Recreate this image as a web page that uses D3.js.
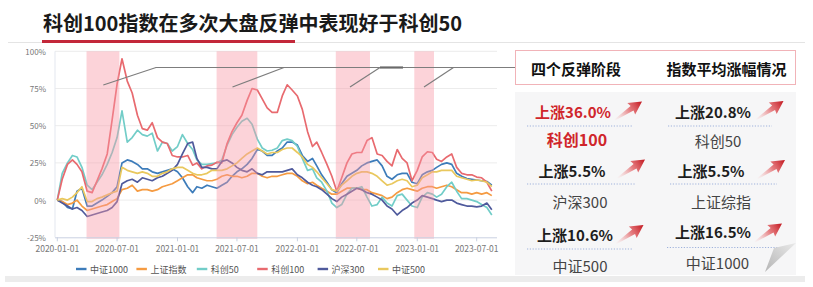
<!DOCTYPE html>
<html><head><meta charset="utf-8">
<script src="https://cdn.jsdelivr.net/npm/d3@7"></script>
<style>body{margin:0;background:#fff;} svg{display:block;font-family:"Noto Sans CJK SC","Noto Sans",sans-serif;}</style>
</head><body><svg id="c" width="813" height="287"></svg>
<script>
// ---------- DATA ----------
const title = "科创100指数在多次大盘反弹中表现好于科创50";
const dates = [
"2020-01-01","2020-01-16","2020-02-01","2020-02-16","2020-03-01","2020-03-16","2020-04-01","2020-04-16","2020-05-01","2020-05-16","2020-06-01","2020-06-16",
"2020-07-01","2020-07-16","2020-08-01","2020-08-16","2020-09-01","2020-09-16","2020-10-01","2020-10-16","2020-11-01","2020-11-16","2020-12-01","2020-12-16",
"2021-01-01","2021-01-16","2021-02-01","2021-02-16","2021-03-01","2021-03-16","2021-04-01","2021-04-16","2021-05-01","2021-05-16","2021-06-01","2021-06-16",
"2021-07-01","2021-07-16","2021-08-01","2021-08-16","2021-09-01","2021-09-16","2021-10-01","2021-10-16","2021-11-01","2021-11-16","2021-12-01","2021-12-16",
"2022-01-01","2022-01-16","2022-02-01","2022-02-16","2022-03-01","2022-03-16","2022-04-01","2022-04-16","2022-05-01","2022-05-16","2022-06-01","2022-06-16",
"2022-07-01","2022-07-16","2022-08-01","2022-08-16","2022-09-01","2022-09-16","2022-10-01","2022-10-16","2022-11-01","2022-11-16","2022-12-01","2022-12-16",
"2023-01-01","2023-01-16","2023-02-01","2023-02-16","2023-03-01","2023-03-16","2023-04-01","2023-04-16","2023-05-01","2023-05-16","2023-06-01","2023-06-16",
"2023-07-01","2023-07-16","2023-08-01","2023-08-16"];

const zz1000 = [0,-1,-5,-6,6,8,-4,-4,-2,0,2.5,5,
 9,25,27,26,24,21,21,19,18,19,20,21,
 19,15,9,5,9,8,10,9,8,10,12,16,
 19,21,24,28,34,33,30,30,33,35,39,39,
 37,30,26,28,23,17,12,7,5,11,16,18,
 20,23,25,26,27,23,16,14,17,18,18,12,
 11,17,19,20,22,24,25,24,18,16,14.5,14,
 13.5,13,12.5,10];
const szzs = [0,-1,-3,-2,0,-4,-7,-6,-5,-4,-3,-1,
 1,7,8,10,6,7,7,6,7,9,10,11,
 13,15,17,17,15,14,13,13,14,16,17,16,
 16,15,16,18,18,16,15,16,16,17,18,18,
 16,13,11,12,10,8,6,4,4,6,8,8,
 8,7,7,5,4,3,1,2,5,7,8,7,
 6,8,9,9,8,9,10,9,7,5,5,4,
 5,4,5,3];
const kc50 = [0,18,25,30,29,22,10,7,12,17,24,32,
 42,60,39,42,47,44,43,45,33,39,38,33,
 36,44,38,34,27,24,24,24.5,25,27,37,44,
 49,53,55,51,41,35,33,33.5,35,40,41,40,
 36,28,20,21,15,12,6,-2,-5,-3,4,8,
 8,9,2,-4,-3,2,-2,-4,3,4,0,-4,
 -5,2,5,4,2,4,9,12,6,1,1,0,
 -1,-3,-5,-10];
const kc100 = [0,14,24,27,24,19,6,5,13,21,31,54,
 78,95,80,72,57,48,47,52,42,39,38,30,
 29,29,30,23.5,25,21,23,23.5,25.5,25,38,46,
 52,57,67,75,74,68,62,59,59,70,77.5,74,
 70,61,46,36,39,32,24,16,6,15,25,31,
 32,32,40,42,31,30,26,23,34,28,25,13,
 20,29,32.5,32,27.5,26,29,31,22,18,17,17,
 15.5,15,12,6];
const hs300 = [0,-2,-4,-6,-5,-7,-11,-10,-9,-8,-7,-5,
 -1,11,13,14,12,15,14,13,15,16,18,20,
 24,31,38,39,28,22,22,21,21,26,27,25,
 22,20,19,21,18,17,19,19,19,19,20,21,
 17,15,12,10,9,7,4,1,-1,2,4,6,
 8,7,5,4,2,0,-4,-6,-10,-7,-5,-2,
 0,3,2,1,0,-1,0,0,-2,-3,-4,-4,
 -4.5,-4,-2,-6.5];
const zz500 = [0,1,0,2,5,9,-1,-1,1,2,3.5,5,
 6,22,20,19,18,19,18,16,16,18,19,21,
 22,22,20,18,17,17,18,20,20,20,21,23,
 25,28,31,33,35,33,31,32,32,34,35,35,
 32,29,24,22,19,15,11,7,6,10,13,16,
 18,19,19,18,16,13,10,11,13,14,13,9,
 10,15,17,19,19,20,20,20,16,15,14,13,
 13.5,13,12,9];

const seriesNames = ["中证1000","上证指数","科创50","科创100","沪深300","中证500"];
const seriesValues = [zz1000, szzs, kc50, kc100, hs300, zz500];
const seriesColors = ["#3d7cba","#f59b42","#72cdc8","#e86a6f","#4f5a9c","#e9c85e"];

const bands = [["2020-03-30","2020-07-08"],["2021-04-30","2021-09-01"],["2022-04-28","2022-08-10"],["2022-12-23","2023-02-21"]];
const yTicks = [-25,0,25,50,75,100];
const xTicks = ["2020-01-01","2020-07-01","2021-01-01","2021-07-01","2022-01-01","2022-07-01","2023-01-01","2023-07-01"];

const headers = ["四个反弹阶段","指数平均涨幅情况"];
const statNames = ["科创100","科创50","沪深300","上证综指","中证500","中证1000"];
const statGains = ["36.0%","20.8%","5.5%","5.5%","10.6%","16.5%"];

// ---------- DRAW ----------
const svg = d3.select("#c");
const parse = d3.timeParse("%Y-%m-%d");
const x = d3.scaleTime().domain([parse("2020-01-01"), parse("2023-07-01")]).range([57.3, 476.7]);
const y = d3.scaleLinear().domain([-25,100]).range([237.3, 51.3]);
const plotL = 55, plotR = 497;

// top decoration
svg.append("line").attr("x1",8).attr("x2",805).attr("y1",42.5).attr("y2",42.5).attr("stroke","#e4e4e4");
svg.append("rect").attr("x",42).attr("y",40).attr("width",253).attr("height",3).attr("fill","#c3283a");
svg.append("text").attr("x",43).attr("y",22.5).attr("dominant-baseline","central")
  .attr("font-size",20).attr("font-weight",700).attr("fill","#1a1a1a").text(title);

// grid
svg.append("g").selectAll("line").data(yTicks.filter(v=>v>-25)).join("line")
  .attr("x1",plotL).attr("x2",plotR).attr("y1",d=>y(d)).attr("y2",d=>y(d))
  .attr("stroke","#ececec").attr("stroke-width",1);

// y labels
svg.append("g").selectAll("text").data(yTicks).join("text")
  .attr("x",46).attr("y",d=>y(d)).attr("dominant-baseline","central").attr("text-anchor","end")
  .attr("font-size",8).attr("fill","#777").text(d=>d+"%");

// lines
const line = d3.line().x(d=>x(d[0])).y(d=>y(d[1]));
seriesValues.forEach((vals,i)=>{
  const pts = dates.map((d,j)=>[parse(d), vals[j]]);
  svg.append("path").datum(pts).attr("d",line).attr("fill","none")
    .attr("stroke",seriesColors[i]).attr("stroke-width",1.7).attr("stroke-linejoin","round");
});

// bands (over lines, translucent)
svg.append("g").selectAll("rect").data(bands).join("rect")
  .attr("x",d=>x(parse(d[0]))).attr("width",d=>x(parse(d[1]))-x(parse(d[0])))
  .attr("y",y(100)).attr("height",y(-25)-y(100)+1.5)
  .attr("fill","rgb(247,150,165)").attr("fill-opacity",0.42);

// axes
svg.append("line").attr("x1",plotL).attr("x2",plotL).attr("y1",y(100)).attr("y2",y(-25)).attr("stroke","#e3e7ef");
svg.append("line").attr("x1",plotL).attr("x2",plotR).attr("y1",y(-25)+0.5).attr("y2",y(-25)+0.5).attr("stroke","#c9d1e1");
const xt = svg.append("g");
xt.selectAll("line").data(xTicks).join("line")
  .attr("x1",d=>x(parse(d))).attr("x2",d=>x(parse(d))).attr("y1",y(-25)).attr("y2",y(-25)+4).attr("stroke","#c9d1e1");
xt.selectAll("text").data(xTicks).join("text")
  .attr("x",d=>x(parse(d))).attr("y",248).attr("dominant-baseline","central").attr("text-anchor","middle")
  .attr("font-size",8.5).attr("fill","#777").text(d=>d);

// legend
const lg = svg.append("g").selectAll("g").data(seriesNames).join("g")
  .attr("transform",(d,i)=>`translate(${76+i*60.4},269)`);
lg.append("line").attr("x1",0).attr("x2",10.5).attr("stroke",(d,i)=>seriesColors[i]).attr("stroke-width",2.4);
lg.append("text").attr("x",14).attr("dominant-baseline","central").attr("font-size",9).attr("fill","#555").text(d=>d);

// callouts
const callColor="#7d7d7d";
svg.append("path").attr("d","M103.3,85 L156,67.5 L515,67.5").attr("fill","none").attr("stroke",callColor).attr("stroke-width",1.2);
[[232.5,87,284,67.5],[350,87,380,67.5],[424,87,453.5,67.5]].forEach(s=>{
  svg.append("line").attr("x1",s[0]).attr("y1",s[1]).attr("x2",s[2]).attr("y2",s[3]).attr("stroke",callColor).attr("stroke-width",1.2);
});
svg.append("line").attr("x1",380).attr("x2",403).attr("y1",67.5).attr("y2",67.5).attr("stroke","#6a6a6a").attr("stroke-width",2.2);

// right panel
svg.append("rect").attr("x",515).attr("y",92).attr("width",281).attr("height",183).attr("fill","#f6f6f7");
svg.append("rect").attr("x",5).attr("y",276).attr("width",800).attr("height",6).attr("fill","#ececec");
svg.append("rect").attr("x",515.5).attr("y",50.5).attr("width",280).attr("height",34).attr("fill","#fff").attr("stroke","#f1b3b8");
svg.selectAll("text.hd").data(headers).join("text").attr("class","hd")
  .attr("x",(d,i)=>[576,726.5][i]).attr("y",68.3).attr("text-anchor","middle").attr("dominant-baseline","central")
  .attr("font-size",15).attr("font-weight",700).attr("fill","#111").text(d=>d);

const defs = svg.append("defs");
const gr = defs.append("linearGradient").attr("id","ag").attr("x1","0").attr("x2","1").attr("y1","0").attr("y2","0");
gr.append("stop").attr("offset","0").attr("stop-color","#f4b6b6").attr("stop-opacity",0.05);
gr.append("stop").attr("offset","0.55").attr("stop-color","#e0565a").attr("stop-opacity",0.75);
gr.append("stop").attr("offset","1").attr("stop-color","#c1141c");
const cg = defs.append("linearGradient").attr("id","cg").attr("x1","1").attr("x2","0").attr("y1","0").attr("y2","1");
cg.append("stop").attr("offset","0").attr("stop-color","#e9e9e9");
cg.append("stop").attr("offset","1").attr("stop-color","#b5b5b5");

const cells = [
 {gx:573,gy:111,nx:577,ny:139,tip:[642,101.5],red:true},
 {gx:713,gy:111,nx:718,ny:140,tip:[783.5,101]},
 {gx:572,gy:170,nx:580,ny:201,tip:[645,159.5]},
 {gx:711,gy:170,nx:721,ny:201,tip:[785,160]},
 {gx:575,gy:234,nx:580,ny:265.5,tip:[643.5,225]},
 {gx:713,gy:231.5,nx:717.5,ny:262.5,tip:[782,223.5]}
];
const dotLines = [[527,633,126],[668,772,126],[527,636,184],[670,777,184],[527,633,249],[667,790,247.5]];
svg.selectAll("line.dl").data(dotLines).join("line").attr("class","dl")
  .attr("x1",d=>d[0]).attr("x2",d=>d[1]).attr("y1",d=>d[2]).attr("y2",d=>d[2])
  .attr("stroke","#9fb2dc").attr("stroke-width",1).attr("stroke-dasharray","1.2,1.6");

const ang = Math.atan2(-19,28), L=33;
cells.forEach((c,i)=>{
  svg.append("text").attr("x",c.gx).attr("y",c.gy).attr("text-anchor","middle").attr("dominant-baseline","central")
    .attr("font-size",15).attr("font-weight",700).attr("fill",c.red?"#d0252b":"#1d1d1d").text("上涨"+statGains[i]);
  svg.append("text").attr("x",c.nx).attr("y",c.ny).attr("text-anchor","middle").attr("dominant-baseline","central")
    .attr("font-size",c.red?16:15).attr("font-weight",c.red?700:400).attr("fill",c.red?"#d0252b":"#444").text(statNames[i]);
  const tx = c.tip[0]-L*Math.cos(ang), ty = c.tip[1]-L*Math.sin(ang);
  svg.append("path").attr("transform",`translate(${tx},${ty}) rotate(${ang*180/Math.PI})`)
    .attr("d",`M0,-0.6 L21,-2.6 L20,-7 L${L},0 L20,7 L21,2.6 L0,0.6 Z`).attr("fill","url(#ag)");
});
// page curl
svg.append("path").attr("d","M796,243 L774,248 L765,272 Z").attr("fill","url(#cg)");
</script></body></html>
